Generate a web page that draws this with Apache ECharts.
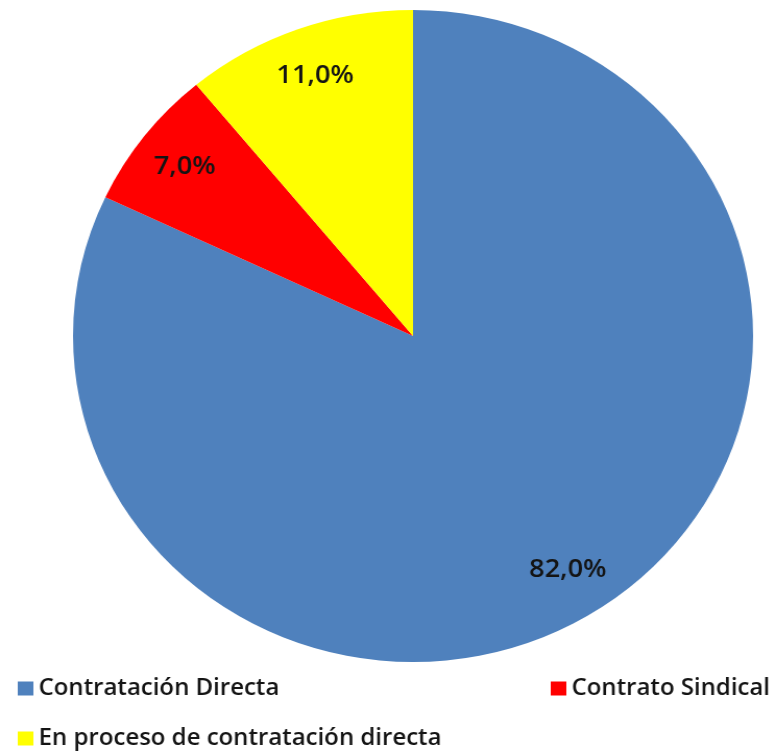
<!DOCTYPE html>
<html>
<head>
<meta charset="utf-8">
<script src="https://cdn.jsdelivr.net/npm/echarts@6/dist/echarts.min.js"></script>
<style>
  html, body { margin: 0; padding: 0; background: #fff; overflow: hidden; }
  /* the source picture is slightly stretched horizontally */
  #chart { width: 740px; height: 751px; transform: scaleX(1.043); transform-origin: 0 0; }
</style>
</head>
<body>
<div id="chart"></div>
<script>
const categories = ['Contratación Directa', 'Contrato Sindical', 'En proceso de contratación directa']
const values = [82.0, 7.0, 11.0]
const colors = ['#4F81BD', '#FF0000', '#FFFF00']

const chart = echarts.init(document.getElementById('chart'))

const pieData = categories.map((name, i) => ({ name, value: values[i], itemStyle: { color: colors[i] } }))
const labelData = categories.map((name, i) => ({ name, value: values[i] }))

const legendText = { fontSize: 23, fontWeight: 600, color: '#141414', fontFamily: '"Open Sans", sans-serif' }

// one legend per entry so each sits where the original has it
const legendPos = [[17, 677], [528, 677], [17, 727]]
const legends = categories.map((name, i) => ({
  data: [name],
  left: legendPos[i][0],
  top: legendPos[i][1],
  padding: 0,
  itemWidth: 15,
  itemHeight: 14,
  icon: 'rect',
  textStyle: legendText
}))

chart.setOption({
  animation: false,
  backgroundColor: '#fff',
  legend: legends,
  series: [
    {
      type: 'pie',
      center: [396, 336],
      radius: 326,
      startAngle: 90,
      clockwise: true,
      label: { show: false },
      labelLine: { show: false },
      emphasis: { disabled: true },
      data: pieData
    },
    {
      // transparent ring only used to place the value labels
      type: 'pie',
      center: [396, 336],
      radius: [222, 326],
      startAngle: 90,
      clockwise: true,
      silent: true,
      legendHoverLink: false,
      itemStyle: { color: 'rgba(0,0,0,0)' },
      label: {
        show: true,
        position: 'inside',
        formatter: p => p.value.toFixed(1).replace('.', ',') + '%',
        fontSize: 26,
        fontWeight: 600,
        color: '#141414',
        fontFamily: '"Open Sans", sans-serif'
      },
      labelLine: { show: false },
      data: labelData
    }
  ]
})

window.addEventListener('resize', () => chart.resize())
</script>
</body>
</html>
